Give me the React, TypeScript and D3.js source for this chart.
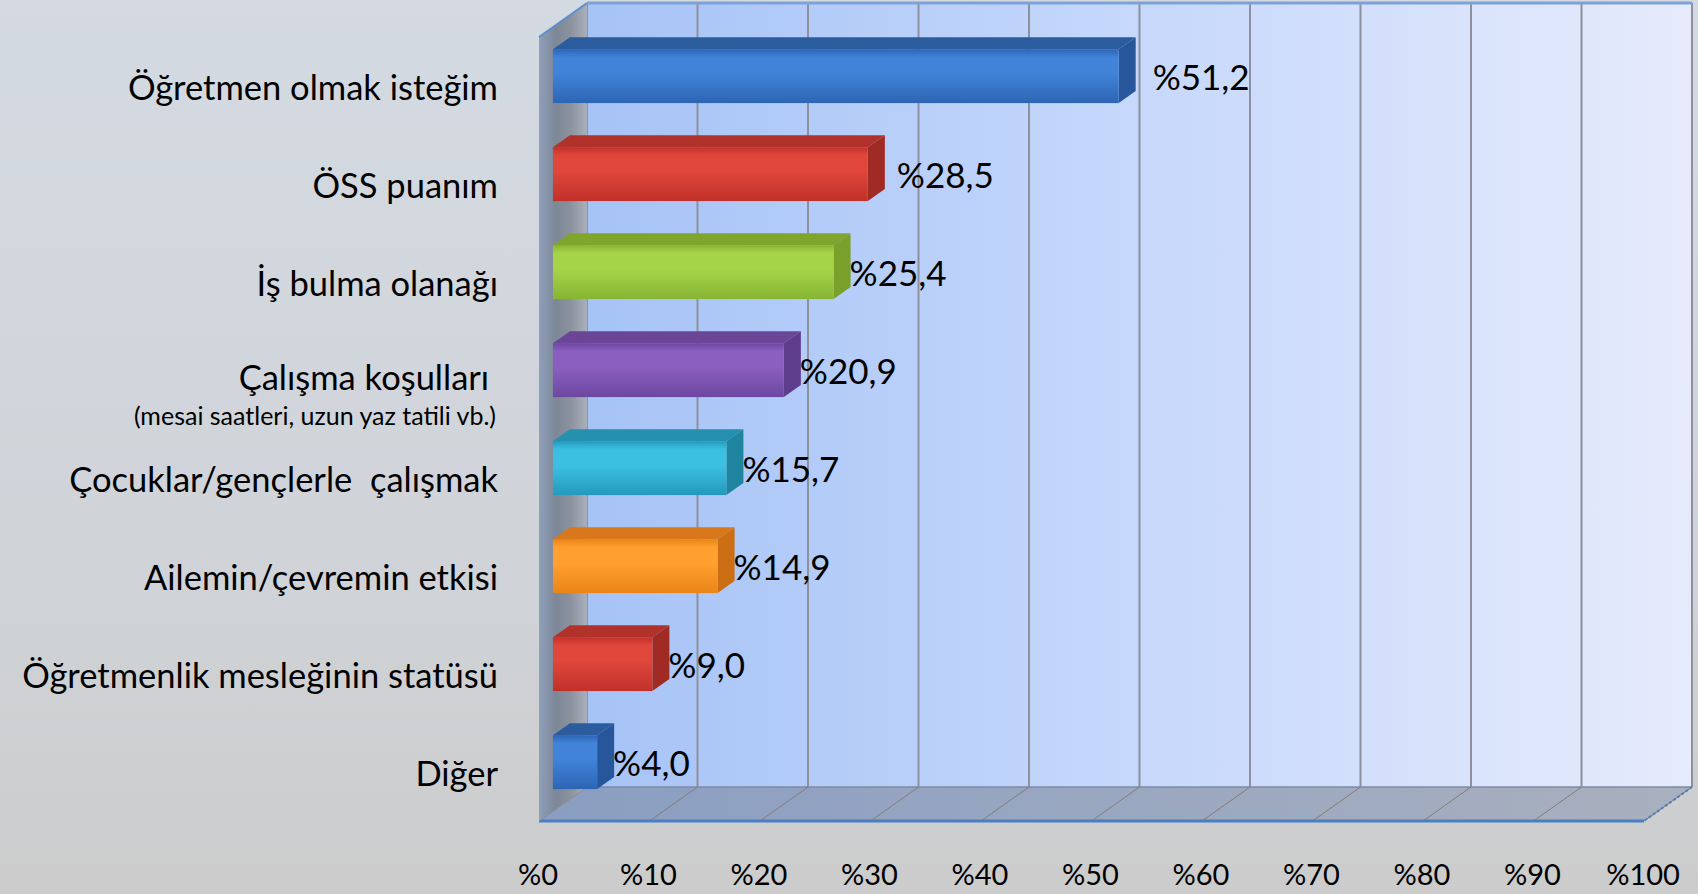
import * as d3 from "d3";

// kategori adları, alt açıklama ve yüzdeler
const categories = [
  "Öğretmen olmak isteğim",
  "ÖSS puanım",
  "İş bulma olanağı",
  "Çalışma koşulları ",
  "Çocuklar/gençlerle  çalışmak",
  "Ailemin/çevremin etkisi",
  "Öğretmenlik mesleğinin statüsü",
  "Diğer",
];
const subLabels = ["", "", "", "(mesai saatleri, uzun yaz tatili vb.)", "", "", "", ""];
const values = [51.2, 28.5, 25.4, 20.9, 15.7, 14.9, 9.0, 4.0];
const ticks = [0, 10, 20, 30, 40, 50, 60, 70, 80, 90, 100];

// bar renkleri: [ön yüz açık, ön yüz koyu, üst yüz, uç yüz]
const palette: Record<string, string[]> = {
  blue: ["#4083d8", "#2d65b5", "#2b5c9e", "#28569a"],
  red: ["#e0463a", "#c0312a", "#b0322b", "#a02a24"],
  green: ["#a6d448", "#87b534", "#7fa52c", "#7a9f2a"],
  purple: ["#8a5fc0", "#6c47a0", "#6a4598", "#5e3d8c"],
  teal: ["#3cc0e2", "#2499bb", "#2590ad", "#1f84a0"],
  orange: ["#ffa030", "#ea8418", "#d8781a", "#cc6e14"],
};
const barColor = ["blue", "red", "green", "purple", "teal", "orange", "red", "blue"];
const labelNudge = [18, 13, 0, 0, 0, 0, 0, 0];

const W = 1698;
const H = 894;
const FONT = "Lato, 'Noto Sans', sans-serif";

export default function App() {
  // arka duvar koordinatları
  const wallX0 = 587;
  const wallTop = 3;
  const wallBottom = 787;
  const depthX = -48;
  const depthY = 34;

  const x = d3.scaleLinear().domain([0, 100]).range([0, 1105]);
  const y = d3
    .scaleBand<string>()
    .domain(categories)
    .range([wallTop, wallBottom])
    .paddingInner(0.45)
    .paddingOuter(0.225);

  // bar ön yüzü derinliğin %71'inde
  const fx = wallX0 + depthX * 0.71;
  const fy = depthY * 0.71;
  const capX = 17;
  const capY = 12;

  const fmt = (v: number) => "%" + d3.format(".1f")(v).replace(".", ",");

  const floorFront = wallBottom + depthY;
  const pts = (a: number[][]) => a.map((p) => p.join(",")).join(" ");

  return (
    <svg
      width={W}
      height={H}
      style={{ position: "absolute", left: 0, top: 0, display: "block" }}
      fontFamily={FONT}
    >
      <defs>
        <linearGradient id="bg" x1="0" y1="0" x2="0" y2="1">
          <stop offset="0" stopColor="#d4dae2" />
          <stop offset="0.6" stopColor="#d0d4d9" />
          <stop offset="1" stopColor="#cccccc" />
        </linearGradient>
        <linearGradient id="wall" x1="0" y1="0" x2="1" y2="0">
          <stop offset="0" stopColor="#a6c3f6" />
          <stop offset="0.45" stopColor="#c3d6fb" />
          <stop offset="1" stopColor="#e6ebfb" />
        </linearGradient>
        <linearGradient id="side" x1="0" y1="0" x2="1" y2="0">
          <stop offset="0" stopColor="#8fa0bb" />
          <stop offset="0.35" stopColor="#7d8797" />
          <stop offset="0.65" stopColor="#8b929e" />
          <stop offset="1" stopColor="#a9b0bb" />
        </linearGradient>
        <linearGradient id="floor" x1="0" y1="0" x2="1" y2="0">
          <stop offset="0" stopColor="#8a9ec2" />
          <stop offset="1" stopColor="#a9b0be" />
        </linearGradient>
        {Object.entries(palette).map(([k, c]) => (
          <linearGradient key={k} id={`bar-${k}`} x1="0" y1="0" x2="0" y2="1">
            <stop offset="0" stopColor={c[1]} />
            <stop offset="0.15" stopColor={c[0]} />
            <stop offset="0.45" stopColor={c[0]} />
            <stop offset="1" stopColor={c[1]} />
          </linearGradient>
        ))}
      </defs>

      <rect width={W} height={H} fill="url(#bg)" />

      {/* arka duvar */}
      <rect
        x={wallX0}
        y={wallTop}
        width={x(100)}
        height={wallBottom - wallTop}
        fill="url(#wall)"
      />
      {ticks.map((t) => (
        <line
          key={"g" + t}
          x1={wallX0 + x(t)}
          x2={wallX0 + x(t)}
          y1={wallTop}
          y2={wallBottom}
          stroke="#8d919b"
          strokeWidth={2}
        />
      ))}
      <line
        x1={wallX0}
        x2={wallX0 + x(100)}
        y1={wallTop}
        y2={wallTop}
        stroke="#7fa2d6"
        strokeWidth={3}
      />

      {/* zemin */}
      <polygon
        points={pts([
          [wallX0, wallBottom],
          [wallX0 + x(100), wallBottom],
          [wallX0 + x(100) + depthX, floorFront],
          [wallX0 + depthX, floorFront],
        ])}
        fill="url(#floor)"
      />
      <line
        x1={wallX0}
        x2={wallX0 + x(100)}
        y1={wallBottom}
        y2={wallBottom}
        stroke="#7d8ba6"
        strokeWidth={1.5}
      />
      {ticks.map((t) => (
        <line
          key={"f" + t}
          x1={wallX0 + x(t)}
          y1={wallBottom}
          x2={wallX0 + x(t) + depthX}
          y2={floorFront}
          stroke="#857c74"
          strokeWidth={1}
        />
      ))}
      <line
        x1={wallX0 + depthX}
        x2={wallX0 + x(100) + depthX}
        y1={floorFront}
        y2={floorFront}
        stroke="#4a7fc1"
        strokeWidth={3}
      />
      <line
        x1={wallX0 + x(100)}
        y1={wallBottom}
        x2={wallX0 + x(100) + depthX}
        y2={floorFront}
        stroke="#4a7fc1"
        strokeWidth={2}
        strokeDasharray="3 2"
      />

      {/* sol yan duvar */}
      <polygon
        points={pts([
          [wallX0, wallTop],
          [wallX0, wallBottom],
          [wallX0 + depthX, floorFront],
          [wallX0 + depthX, wallTop + depthY],
        ])}
        fill="url(#side)"
      />
      <line
        x1={wallX0}
        y1={wallTop}
        x2={wallX0 + depthX}
        y2={wallTop + depthY}
        stroke="#5b8fd0"
        strokeWidth={2}
      />

      {/* barlar */}
      {categories.map((c, i) => {
        const col = palette[barColor[i]];
        const top = (y(c) ?? 0) + fy;
        const h = y.bandwidth();
        const x0 = fx;
        const x1 = fx + x(values[i]);
        return (
          <g key={c}>
            <polygon
              points={pts([
                [x0, top],
                [x0 + capX, top - capY],
                [x1 + capX, top - capY],
                [x1, top],
              ])}
              fill={col[2]}
            />
            <polygon
              points={pts([
                [x1, top],
                [x1 + capX, top - capY],
                [x1 + capX, top + h - capY],
                [x1, top + h],
              ])}
              fill={col[3]}
            />
            <rect
              x={x0}
              y={top}
              width={x1 - x0}
              height={h}
              fill={`url(#bar-${barColor[i]})`}
            />
            <text
              x={x1 + 16 + labelNudge[i]}
              y={top + h / 2 + 14}
              fontSize={35}
              fill="#000"
            >
              {fmt(values[i])}
            </text>
          </g>
        );
      })}

      {/* kategori etiketleri */}
      {categories.map((c, i) => {
        const mid = (y(c) ?? 0) + y.bandwidth() / 2;
        const hasSub = subLabels[i] !== "";
        return (
          <g key={"l" + c}>
            <text
              x={498}
              y={mid + (hasSub ? 44 : 48)}
              textAnchor="end"
              fontSize={34.5}
              fill="#000"
              style={{ whiteSpace: "pre" }}
            >
              {c}
            </text>
            {hasSub && (
              <text
                x={496}
                y={mid + 79}
                textAnchor="end"
                fontSize={25}
                fill="#000"
              >
                {subLabels[i]}
              </text>
            )}
          </g>
        );
      })}

      {/* eksen etiketleri */}
      {ticks.map((t) => (
        <text
          key={"t" + t}
          x={wallX0 + depthX + x(t) - 1}
          y={885}
          textAnchor="middle"
          fontSize={29}
          fill="#000"
        >
          {"%" + t}
        </text>
      ))}
    </svg>
  );
}
